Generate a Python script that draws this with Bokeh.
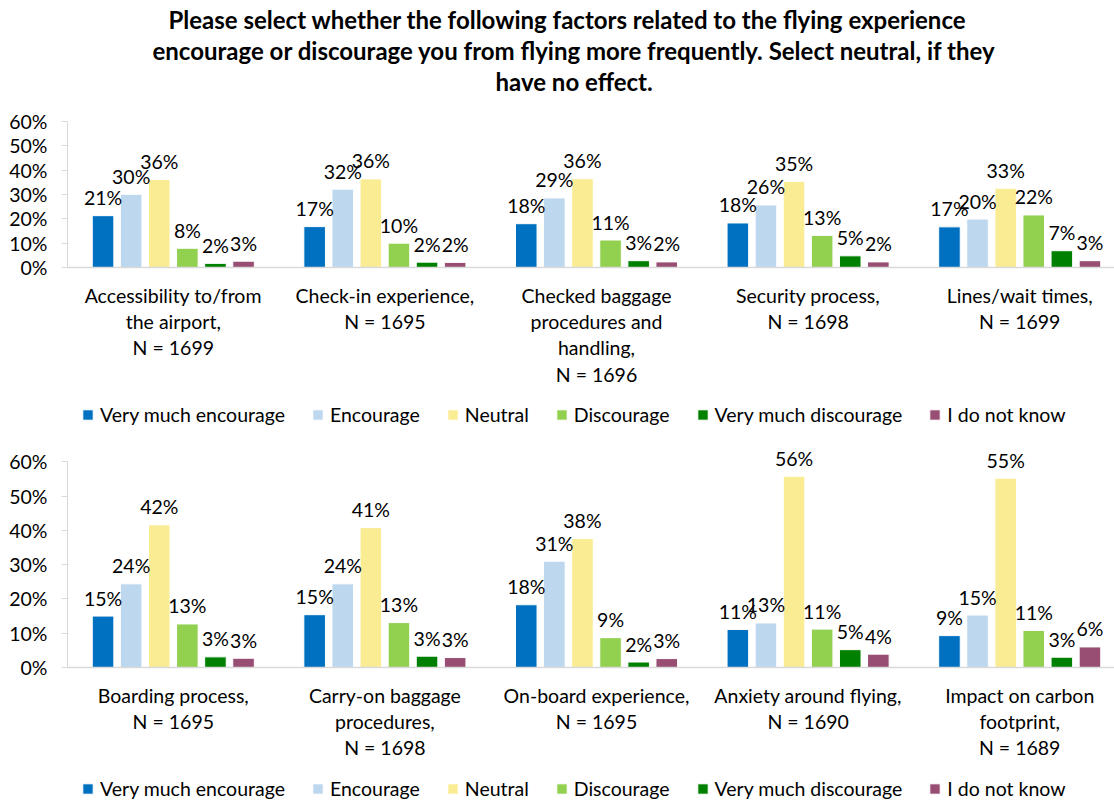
import numpy as np
from bokeh.plotting import figure
from bokeh.models import (Range1d, FixedTicker, Title, Legend, LegendItem,
                          ColumnDataSource, NumeralTickFormatter, LabelSet)
from bokeh.layouts import column
from bokeh.embed import file_html
from bokeh.resources import INLINE
from bokeh.core.properties import value

# ---------------- data ----------------
series = ["Very much encourage", "Encourage", "Neutral", "Discourage",
          "Very much discourage", "I do not know"]
colors = ["#0070C0", "#BDD7EE", "#FAEC93", "#92D050", "#008000", "#984E73"]

title_lines = [
    "Please select whether the following factors related to the flying experience",
    "encourage or discourage you from flying more frequently. Select neutral, if they",
    "have no effect.",
]

top_categories = [
    "Accessibility to/from\nthe airport,\nN = 1699",
    "Check-in experience,\nN = 1695",
    "Checked baggage\nprocedures and\nhandling,\nN = 1696",
    "Security process,\nN = 1698",
    "Lines/wait times,\nN = 1699",
]
top_very_much_encourage = [0.213, 0.168, 0.180, 0.183, 0.167]
top_encourage = [0.301, 0.322, 0.286, 0.257, 0.199]
top_neutral = [0.362, 0.364, 0.365, 0.354, 0.326]
top_discourage = [0.079, 0.100, 0.113, 0.132, 0.216]
top_very_much_discourage = [0.017, 0.022, 0.028, 0.048, 0.069]
top_do_not_know = [0.026, 0.021, 0.023, 0.023, 0.028]

bottom_categories = [
    "Boarding process,\nN = 1695",
    "Carry-on baggage\nprocedures,\nN = 1698",
    "On-board experience,\nN = 1695",
    "Anxiety around flying,\nN = 1690",
    "Impact on carbon\nfootprint,\nN = 1689",
]
bottom_very_much_encourage = [0.150, 0.154, 0.183, 0.111, 0.093]
bottom_encourage = [0.244, 0.244, 0.310, 0.130, 0.153]
bottom_neutral = [0.416, 0.408, 0.376, 0.558, 0.552]
bottom_discourage = [0.127, 0.131, 0.087, 0.112, 0.108]
bottom_very_much_discourage = [0.031, 0.033, 0.016, 0.052, 0.030]
bottom_do_not_know = [0.027, 0.029, 0.026, 0.039, 0.060]

y_ticks = [0.0, 0.1, 0.2, 0.3, 0.4, 0.5, 0.6]

FONT = "Lato"
FS = "19.5px"
TXT = "#000000"
AXC = "#D9D9D9"
PITCH = 0.1328
BAR_W = 0.102
W = 1114


def make_chart(categories, values, height, min_top, min_bottom, y_end,
               titles=None):
    p = figure(width=W, height=height, output_backend="svg",
               toolbar_location=None, x_range=Range1d(-0.5, 4.448),
               y_range=Range1d(0, y_end), min_border_left=67,
               min_border_right=0, min_border_top=min_top,
               min_border_bottom=min_bottom)
    p.outline_line_color = None
    p.xgrid.visible = False
    p.ygrid.visible = False
    if titles:
        # spacer between the plot frame and the title block
        p.add_layout(Title(text=" ", text_font=FONT, text_font_size="16px",
                           standoff=5), "above")
        offsets = [101, 85, 428]
        for t, off in reversed(list(zip(titles, offsets))):
            p.add_layout(Title(text=t, align="left", offset=off,
                               text_font=FONT, text_font_size="24px",
                               text_font_style="bold", text_color=TXT,
                               text_line_height=0.9, standoff=0), "above")

    idx = np.arange(len(categories))
    for k, (vals, col) in enumerate(zip(values, colors)):
        xs = idx + (k - 2.5) * PITCH
        src = ColumnDataSource(dict(x=xs, top=vals,
                                    lab=[f"{round(v * 100)}%" for v in vals]))
        p.vbar(x="x", top="top", width=BAR_W, bottom=0, source=src,
               fill_color=col, line_color="white", line_width=1)
        p.add_layout(LabelSet(x="x", y="top", text="lab", source=src,
                              text_align="center", text_baseline="middle",
                              y_offset=18, text_font=value(FONT),
                              text_font_size=value(FS),
                              text_color=value(TXT)))

    # y axis
    ya = p.yaxis[0]
    ya.ticker = FixedTicker(ticks=y_ticks)
    ya.bounds = (0, 0.6)
    ya.formatter = NumeralTickFormatter(format="0%")
    ya.axis_line_color = AXC
    ya.major_tick_line_color = AXC
    ya.major_tick_out = 6
    ya.major_tick_in = 0
    ya.minor_tick_line_color = None
    ya.major_label_standoff = 14
    ya.major_label_text_font = FONT
    ya.major_label_text_font_size = FS
    ya.major_label_text_color = TXT

    # x axis
    xa = p.xaxis[0]
    xa.ticker = FixedTicker(ticks=list(range(len(categories))))
    xa.major_label_overrides = {i: c for i, c in enumerate(categories)}
    xa.axis_line_color = AXC
    xa.axis_line_width = 1.5
    xa.major_tick_line_color = None
    xa.minor_tick_line_color = None
    xa.major_tick_out = 0
    xa.major_tick_in = 0
    xa.major_label_standoff = 16
    xa.major_label_text_font = FONT
    xa.major_label_text_font_size = FS
    xa.major_label_text_color = TXT
    xa.major_label_text_line_height = 1.15
    return p


def make_legend(values, height, loc):
    # legend strip; its proxy renderers hold the series data but stay hidden
    p = figure(width=W, height=height, output_backend="svg",
               toolbar_location=None, x_axis_location=None,
               y_axis_location=None, min_border=0,
               x_range=Range1d(0, 1), y_range=Range1d(0, 1))
    p.outline_line_color = None
    p.grid.visible = False
    items = []
    for name, vals, col in zip(series, values, colors):
        r = p.vbar(x=list(range(len(vals))), top=vals, width=0.1,
                   fill_color=col, line_color="white", line_width=1,
                   visible=False)
        items.append(LegendItem(label=name, renderers=[r]))
    legend = Legend(items=items, orientation="horizontal", location=loc,
                    border_line_color=None, background_fill_alpha=0,
                    label_text_font=FONT, label_text_font_size=FS,
                    label_text_color=TXT, glyph_width=13, glyph_height=13,
                    label_height=20, label_standoff=6, spacing=26,
                    padding=0, margin=0, inactive_fill_alpha=0)
    p.add_layout(legend)
    return p


top_values = [top_very_much_encourage, top_encourage, top_neutral,
              top_discourage, top_very_much_discourage, top_do_not_know]
bottom_values = [bottom_very_much_encourage, bottom_encourage, bottom_neutral,
                 bottom_discourage, bottom_very_much_discourage,
                 bottom_do_not_know]

top = make_chart(top_categories, top_values, 398, 121, 131, 0.6,
                 titles=title_lines)
leg_top = make_legend(top_values, 34, (14, 6))
bottom = make_chart(bottom_categories, bottom_values, 330, 8, 94, 0.662)
leg_bottom = make_legend(bottom_values, 40, (14, 2))

layout = column(top, leg_top, bottom, leg_bottom, spacing=0)
open("out.html", "w").write(file_html(layout, INLINE))
